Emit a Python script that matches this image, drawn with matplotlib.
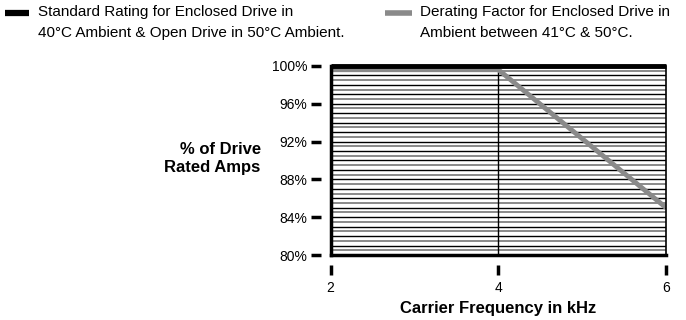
import matplotlib
matplotlib.use("Agg")
import matplotlib.pyplot as plt
import numpy as np

plt.rcParams["font.family"] = ["Liberation Sans", "DejaVu Sans"]

# data
freq_std = [2, 6]
amps_std = [100, 100]
freq_derate = [2, 4, 6]
amps_derate = [99.6, 99.6, 85]
x_ticks = [2, 4, 6]
y_ticks = [80, 84, 88, 92, 96, 100]
y_tick_labels = ["80%", "84%", "88%", "92%", "96%", "100%"]
legend_std = "Standard Rating for Enclosed Drive in\n40°C Ambient & Open Drive in 50°C Ambient."
legend_derate = "Derating Factor for Enclosed Drive in\nAmbient between 41°C & 50°C."

black = "#000000"
gray = "#8a8a8a"

fig = plt.figure(figsize=(6.86, 3.2), dpi=100)
ax = fig.add_axes([0.482, 0.203, 0.489, 0.591])
ax.set_xlim(2, 6)
ax.set_ylim(80, 100)

# horizontal grid every 0.5 %, alternating black / gray
for i, y in enumerate(np.arange(80.5, 100, 0.5)):
    ax.axhline(y, color=black if i % 2 else gray, lw=1.0 if i % 2 else 1.4, zorder=1)
ax.axvline(4, color=black, lw=1.0, zorder=1)

ax.plot(freq_derate, amps_derate, color=gray, lw=3.5, zorder=3, solid_capstyle="butt")
ax.plot(freq_std, amps_std, color=black, lw=3.5, zorder=4, clip_on=False, solid_capstyle="butt")

# frame
for s in ["top", "right", "left", "bottom"]:
    ax.spines[s].set_visible(False)
ax.plot([2, 2], [80, 100], color=black, lw=2.5, clip_on=False, zorder=5)
ax.plot([2, 6], [80, 80], color=black, lw=2.5, clip_on=False, zorder=5, solid_capstyle="projecting")
ax.plot([6, 6], [80, 100], color=black, lw=1.2, clip_on=False, zorder=5)
ax.spines["left"].set_position(("outward", 7))
ax.spines["bottom"].set_position(("outward", 7))

ax.set_yticks(y_ticks)
ax.set_yticklabels(y_tick_labels)
ax.set_xticks(x_ticks)
ax.tick_params(axis="y", direction="out", length=7, width=2.5, pad=3, labelsize=10)
ax.tick_params(axis="x", direction="out", length=7, width=2.5, pad=5, labelsize=10)

ax.set_xlabel("Carrier Frequency in kHz", fontsize=12, fontweight="bold", labelpad=4)
fig.text(0.38, 0.505, "% of Drive\nRated Amps", ha="right", va="center",
         fontsize=12, fontweight="bold", linespacing=1.3)

# legend
fig.lines.append(plt.Line2D([0.008, 0.042], [0.958, 0.958], color=black, lw=4.5,
                            solid_capstyle="butt", transform=fig.transFigure))
fig.lines.append(plt.Line2D([0.561, 0.600], [0.958, 0.958], color=gray, lw=4,
                            solid_capstyle="butt", transform=fig.transFigure))
fig.text(0.055, 0.985, legend_std, ha="left", va="top", fontsize=11, linespacing=1.65)
fig.text(0.612, 0.985, legend_derate, ha="left", va="top", fontsize=11, linespacing=1.65)

fig.savefig("out.png", dpi=100)
